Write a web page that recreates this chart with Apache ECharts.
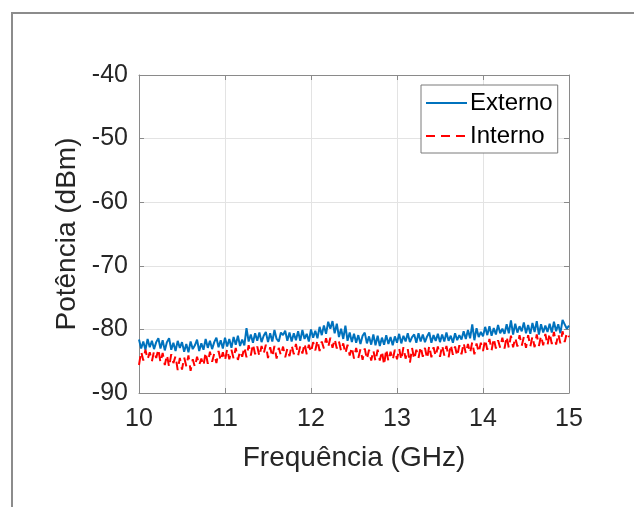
<!DOCTYPE html>
<html>
<head>
<meta charset="utf-8">
<script src="https://cdn.jsdelivr.net/npm/echarts@6/dist/echarts.min.js"></script>
<style>
html,body{margin:0;padding:0;background:#fff;}
#c{width:634px;height:507px;}
</style>
</head>
<body>
<div id="c"></div>
<script>
// Frequency sweep (GHz)
var freq = [
10.000,10.025,10.050,10.075,10.100,10.125,10.150,10.175,10.200,10.225,
10.250,10.275,10.300,10.325,10.350,10.375,10.400,10.425,10.450,10.475,
10.500,10.525,10.550,10.575,10.600,10.625,10.650,10.675,10.700,10.725,
10.750,10.775,10.800,10.825,10.850,10.875,10.900,10.925,10.950,10.975,
11.000,11.025,11.050,11.075,11.100,11.125,11.150,11.175,11.200,11.225,
11.250,11.275,11.300,11.325,11.350,11.375,11.400,11.425,11.450,11.475,
11.500,11.525,11.550,11.575,11.600,11.625,11.650,11.675,11.700,11.725,
11.750,11.775,11.800,11.825,11.850,11.875,11.900,11.925,11.950,11.975,
12.000,12.025,12.050,12.075,12.100,12.125,12.150,12.175,12.200,12.225,
12.250,12.275,12.300,12.325,12.350,12.375,12.400,12.425,12.450,12.475,
12.500,12.525,12.550,12.575,12.600,12.625,12.650,12.675,12.700,12.725,
12.750,12.775,12.800,12.825,12.850,12.875,12.900,12.925,12.950,12.975,
13.000,13.025,13.050,13.075,13.100,13.125,13.150,13.175,13.200,13.225,
13.250,13.275,13.300,13.325,13.350,13.375,13.400,13.425,13.450,13.475,
13.500,13.525,13.550,13.575,13.600,13.625,13.650,13.675,13.700,13.725,
13.750,13.775,13.800,13.825,13.850,13.875,13.900,13.925,13.950,13.975,
14.000,14.025,14.050,14.075,14.100,14.125,14.150,14.175,14.200,14.225,
14.250,14.275,14.300,14.325,14.350,14.375,14.400,14.425,14.450,14.475,
14.500,14.525,14.550,14.575,14.600,14.625,14.650,14.675,14.700,14.725,
14.750,14.775,14.800,14.825,14.850,14.875,14.900,14.925,14.950,14.975,
15.000
];

// Externo (dBm)
var externo = [
-81.6,-83.0,-81.9,-83.2,-81.5,-82.8,-81.8,-83.1,-82.0,-81.4,
-83.0,-81.7,-83.3,-82.0,-81.4,-83.2,-82.1,-83.4,-81.8,-82.9,
-82.0,-83.5,-82.3,-83.6,-81.9,-83.1,-82.5,-81.6,-83.4,-82.2,
-83.2,-81.5,-82.9,-81.8,-83.1,-82.0,-81.3,-82.8,-81.7,-83.0,
-81.3,-82.7,-81.5,-82.9,-81.2,-82.4,-81.0,-82.6,-81.6,-82.5,
-79.8,-81.9,-80.8,-82.1,-80.6,-81.8,-80.5,-82.0,-81.0,-80.4,
-82.0,-80.6,-81.9,-80.1,-81.5,-81.9,-80.5,-80.9,-80.2,-81.8,
-80.5,-81.9,-80.6,-81.7,-80.3,-81.8,-80.1,-81.5,-80.7,-81.9,
-80.0,-81.3,-80.2,-81.4,-79.6,-80.9,-79.4,-80.7,-78.8,-79.9,
-78.7,-80.6,-79.1,-81.2,-79.9,-81.5,-79.4,-81.8,-80.5,-82.0,
-80.7,-82.1,-80.9,-82.3,-81.0,-80.5,-82.2,-81.1,-82.4,-80.8,
-82.5,-81.0,-82.6,-81.3,-82.4,-80.9,-82.3,-81.2,-82.5,-81.1,
-82.1,-80.7,-82.2,-81.0,-81.9,-80.6,-82.0,-81.2,-80.8,-82.1,
-80.6,-81.9,-80.8,-82.0,-81.1,-80.5,-82.1,-80.9,-81.8,-80.7,
-82.0,-80.8,-81.9,-80.5,-81.8,-81.0,-82.1,-80.6,-81.7,-80.9,
-81.6,-80.3,-81.5,-80.1,-81.4,-79.2,-81.7,-79.8,-81.2,-80.4,
-81.1,-79.6,-80.9,-79.5,-81.0,-79.8,-80.8,-79.3,-80.6,-79.9,
-80.7,-79.2,-80.6,-78.6,-80.8,-79.1,-80.5,-79.5,-80.3,-78.9,
-80.6,-79.3,-80.7,-79.0,-80.4,-78.7,-80.8,-79.2,-80.5,-79.4,
-80.4,-79.1,-80.5,-78.8,-80.3,-79.2,-80.6,-78.5,-79.2,-79.9,
-79.4
];

// Interno (dBm)
var interno = [
-85.6,-83.5,-84.9,-83.2,-84.7,-83.6,-85.0,-83.4,-84.5,-83.1,
-85.2,-83.7,-85.6,-84.0,-85.9,-83.9,-85.3,-84.2,-86.4,-84.5,
-86.3,-84.4,-85.8,-84.1,-86.5,-84.7,-85.9,-84.3,-85.6,-84.6,
-85.7,-83.6,-85.4,-83.5,-85.1,-83.8,-85.3,-83.4,-84.9,-83.6,
-84.9,-83.1,-84.7,-83.2,-84.6,-82.9,-84.8,-83.4,-84.3,-82.8,
-84.4,-82.5,-84.1,-82.3,-83.9,-82.7,-84.2,-82.6,-83.8,-82.4,
-84.5,-82.8,-84.3,-82.6,-84.6,-82.9,-84.1,-82.7,-84.4,-83.0,
-84.2,-82.5,-83.9,-82.3,-84.1,-82.6,-83.8,-82.2,-83.9,-82.4,
-83.6,-82.0,-83.3,-81.7,-83.4,-81.9,-83.0,-81.4,-82.8,-81.3,
-82.9,-81.5,-83.0,-81.9,-83.4,-82.2,-83.8,-82.4,-84.1,-82.8,
-84.6,-82.9,-84.5,-83.1,-84.8,-83.0,-84.7,-83.2,-84.9,-83.3,
-85.0,-83.2,-84.9,-83.4,-85.6,-83.1,-85.0,-83.5,-84.8,-83.2,
-84.7,-83.0,-84.8,-82.8,-84.6,-83.1,-85.3,-82.9,-84.7,-83.2,
-84.5,-82.7,-84.3,-82.9,-84.6,-82.6,-84.4,-82.8,-84.2,-82.7,
-84.3,-82.5,-84.1,-82.6,-84.4,-82.4,-84.0,-82.7,-84.2,-82.5,
-83.9,-82.1,-83.8,-82.3,-83.7,-82.0,-83.9,-82.2,-83.6,-82.1,
-83.4,-81.6,-83.2,-81.5,-83.3,-81.4,-83.0,-81.7,-82.9,-81.3,
-83.0,-81.1,-82.9,-81.0,-82.8,-81.3,-82.7,-80.9,-82.6,-81.2,
-82.9,-80.9,-82.7,-81.1,-82.8,-80.8,-82.6,-81.0,-82.5,-80.7,
-82.5,-80.6,-82.3,-80.4,-82.4,-80.7,-82.2,-80.3,-82.0,-80.5,
-81.2
];

var seriesNames = ['Externo', 'Interno'];
var xTitle = 'Frequência (GHz)';
var yTitle = 'Potência (dBm)';

function pairs(xs, ys) {
  var out = [];
  for (var i = 0; i < xs.length; i++) out.push([xs[i], ys[i]]);
  return out;
}

var FONT = '"Liberation Sans", Arial, Helvetica, sans-serif';
var TXT = '#262626';
var AX = '#8a8a8a';

var chart = echarts.init(document.getElementById('c'), null, {renderer: 'canvas'});
var axisCommon = {
  type: 'value',
  axisLine: {show: true, lineStyle: {color: AX, width: 1}},
  axisTick: {show: true, inside: true, length: 5, lineStyle: {color: AX}},
  splitLine: {show: false},
  axisLabel: {show: false}
};
chart.setOption({
  animation: false,
  backgroundColor: '#ffffff',
  grid: {left: 139, top: 75, right: 65, bottom: 114, containLabel: false},
  xAxis: [
    {
      type: 'value', min: 10, max: 15, interval: 1, position: 'bottom',
      axisLine: {show: true, lineStyle: {color: AX, width: 1}},
      axisTick: {show: true, inside: true, length: 5, lineStyle: {color: AX}},
      splitLine: {show: true, lineStyle: {color: '#e3e3e3', width: 1}},
      axisLabel: {color: TXT, fontSize: 25, fontFamily: FONT, margin: 14},
      name: xTitle, nameLocation: 'middle', nameGap: 51,
      nameTextStyle: {color: TXT, fontSize: 28, fontFamily: FONT}
    },
    Object.assign({}, axisCommon, {min: 10, max: 15, interval: 1, position: 'top'})
  ],
  yAxis: [
    {
      type: 'value', min: -90, max: -40, interval: 10, position: 'left',
      axisLine: {show: true, lineStyle: {color: AX, width: 1}},
      axisTick: {show: true, inside: true, length: 5, lineStyle: {color: AX}},
      splitLine: {show: true, lineStyle: {color: '#e3e3e3', width: 1}},
      axisLabel: {color: TXT, fontSize: 25, fontFamily: FONT, margin: 11},
      name: yTitle, nameLocation: 'middle', nameGap: 53, nameRotate: 90,
      nameTextStyle: {color: TXT, fontSize: 28, fontFamily: FONT}
    },
    Object.assign({}, axisCommon, {min: -90, max: -40, interval: 10, position: 'right'})
  ],
  legend: {
    left: 421, top: 85, orient: 'vertical',
    borderColor: '#7a7a7a', borderWidth: 1, backgroundColor: '#fff',
    padding: [6, 5, 5, 4], itemGap: 9, itemWidth: 41, itemHeight: 12,
    itemStyle: {opacity: 0},
    textStyle: {color: '#000', fontSize: 24, fontFamily: FONT, padding: [0, 0, 0, -2]},
    data: seriesNames
  },
  graphic: [{
    type: 'rect', silent: true, z: 100,
    shape: {x: 12, y: 13, width: 700, height: 600},
    style: {fill: 'none', stroke: '#8c8c8c', lineWidth: 2}
  }],
  series: [
    {
      name: seriesNames[0], type: 'line', xAxisIndex: 0, yAxisIndex: 0,
      data: pairs(freq, externo), showSymbol: false, symbol: 'none',
      lineStyle: {color: '#0072BD', width: 2}, itemStyle: {color: '#0072BD'}
    },
    {
      name: seriesNames[1], type: 'line', xAxisIndex: 0, yAxisIndex: 0,
      data: pairs(freq, interno), showSymbol: false, symbol: 'none',
      lineStyle: {color: '#FF0000', width: 2, type: [9, 6]}, itemStyle: {color: '#FF0000'}
    }
  ]
});
</script>
</body>
</html>
